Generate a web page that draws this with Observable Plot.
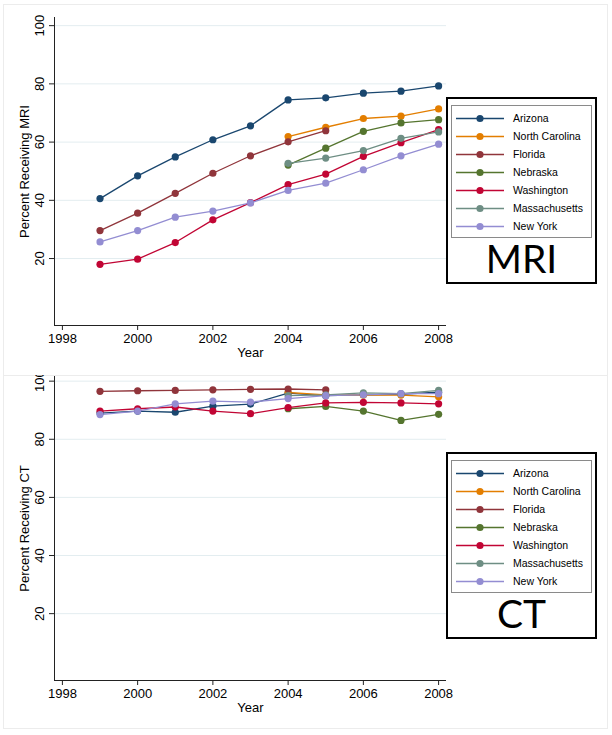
<!DOCTYPE html>
<html>
<head>
<meta charset="utf-8">
<script src="https://cdn.jsdelivr.net/npm/d3@7"></script>
<script src="https://cdn.jsdelivr.net/npm/@observablehq/plot@0.6"></script>
<style>
  html, body { margin: 0; padding: 0; background: #fff; }
  body { width: 612px; height: 735px; position: relative; overflow: hidden; font-family: "Liberation Sans", Arial, sans-serif; }
  .region { position: absolute; border: 1px solid #ececec; box-sizing: border-box; }
  .panel { position: absolute; left: 0; width: 612px; overflow: hidden; }
  .legend-outer { position: absolute; border: 2px solid #000; box-sizing: border-box; background: #fff; }
  .legend-inner { position: absolute; border: 1px solid #8a8a8a; box-sizing: border-box; }
  .legend-row { position: absolute; left: 0; height: 18px; width: 100%; }
  .legend-row svg { position: absolute; left: 4px; top: 0; }
  .legend-row span { position: absolute; left: 61px; top: 2px; font-size: 10.5px; color: #000; white-space: nowrap; }
  .big { position: absolute; left: 0; width: 100%; text-align: center; font-family: Lato, "Open Sans", sans-serif; font-size: 39px; color: #000; line-height: 1; }
</style>
</head>
<body>
<div class="region" style="left:3px;top:4px;width:605px;height:372px;"></div>
<div class="region" style="left:3px;top:375px;width:605px;height:354px;"></div>
<div id="top" class="panel" style="top:0;height:375px;"></div>
<div id="bottom" class="panel" style="top:375px;height:360px;"></div>
<script>
// ---------- data ----------
const years = [1999, 2000, 2001, 2002, 2003, 2004, 2005, 2006, 2007, 2008];
const states = ["Arizona", "North Carolina", "Florida", "Nebraska", "Washington", "Massachusetts", "New York"];
const stateColors = ["#1a476f", "#e37e00", "#90353b", "#55752f", "#c10534", "#6e8e84", "#938dd2"];

// Percent receiving MRI
const mriArizona       = [40.6, 48.4, 54.9, 60.8, 65.6, 74.5, 75.2, 76.8, 77.5, 79.3];
const mriNorthCarolina = [null, null, null, null, null, 61.9, 65.1, 68.1, 68.9, 71.4];
const mriFlorida       = [29.6, 35.6, 42.4, 49.3, 55.3, 60.1, 63.9, null, null, null];
const mriNebraska      = [null, null, null, null, null, 52.1, 57.9, 63.7, 66.6, 67.7];
const mriWashington    = [18.0, 19.8, 25.5, 33.3, 39.2, 45.4, 49.0, 55.1, 59.8, 64.3];
const mriMassachusetts = [null, null, null, null, null, 52.7, 54.5, 57.1, 61.3, 63.5];
const mriNewYork       = [25.7, 29.6, 34.2, 36.3, 39.1, 43.4, 45.9, 50.5, 55.3, 59.3];

// Percent receiving CT
const ctArizona        = [89.0, 89.7, 89.3, 91.4, 92.1, 95.9, 95.0, 95.3, 95.5, 96.2];
const ctNorthCarolina  = [null, null, null, null, null, 96.1, 95.3, 95.2, 95.2, 94.6];
const ctFlorida        = [96.5, 96.7, 96.8, 97.0, 97.2, 97.3, 97.0, null, null, null];
const ctNebraska       = [null, null, null, null, null, 90.5, 91.3, 89.7, 86.5, 88.6];
const ctWashington     = [89.7, 90.5, 91.1, 89.7, 88.8, 90.9, 92.5, 92.7, 92.5, 92.2];
const ctMassachusetts  = [null, null, null, null, null, 95.0, 95.3, 96.0, 95.7, 96.8];
const ctNewYork        = [88.5, 89.7, 92.2, 93.1, 92.8, 94.0, 95.0, 95.3, 95.7, 95.7];

const xTicks = [1998, 2000, 2002, 2004, 2006, 2008];
const yTicks = [20, 40, 60, 80, 100];

const mriSeries = [mriArizona, mriNorthCarolina, mriFlorida, mriNebraska, mriWashington, mriMassachusetts, mriNewYork];
const ctSeries  = [ctArizona, ctNorthCarolina, ctFlorida, ctNebraska, ctWashington, ctMassachusetts, ctNewYork];

function toRows(series) {
  const rows = [];
  series.forEach((vals, i) => {
    vals.forEach((v, j) => rows.push({state: states[i], year: years[j], value: v}));
  });
  return rows;
}

const xDomain = [1997.79, 2008.21];
const FS = 13;

function makePlot({rows, yDomain, yLabel, height, marginTop, marginBottom}) {
  const axisColor = "#222";
  return Plot.plot({
    width: 612,
    height,
    marginLeft: 54,
    marginRight: 166,
    marginTop,
    marginBottom,
    style: {fontFamily: "'Liberation Sans', Arial, sans-serif", fontSize: FS + "px", background: "transparent", color: "#000", overflow: "hidden"},
    x: {domain: xDomain},
    y: {domain: yDomain},
    color: {domain: states, range: stateColors},
    marks: [
      Plot.gridY(yTicks, {stroke: "#e3edf0", strokeOpacity: 1, strokeWidth: 1}),
      Plot.ruleX([xDomain[0]], {stroke: axisColor, strokeWidth: 1}),
      Plot.ruleY([yDomain[0]], {stroke: axisColor, strokeWidth: 1}),
      Plot.axisX({ticks: xTicks, tickSize: 5, tickPadding: 3, tickFormat: d => String(d), label: null, stroke: axisColor, fontSize: FS}),
      Plot.axisY({ticks: yTicks, tickSize: 5, tickFormat: () => "", label: null, stroke: axisColor}),
      Plot.text(yTicks, {y: d => d, text: d => String(d), frameAnchor: "left", dx: -15, rotate: -90, textAnchor: "middle", lineAnchor: "middle", fontSize: FS}),
      Plot.text([yLabel], {text: d => d, frameAnchor: "left", dx: -30, rotate: -90, textAnchor: "middle", lineAnchor: "middle", fontSize: FS}),
      Plot.text(["Year"], {text: d => d, frameAnchor: "bottom", dy: 27, textAnchor: "middle", lineAnchor: "middle", fontSize: FS}),
      Plot.line(rows, {x: "year", y: "value", z: "state", stroke: "state", strokeWidth: 1.3}),
      Plot.dot(rows.filter(d => d.value != null), {x: "year", y: "value", fill: "state", r: 3.6, stroke: "none"})
    ]
  });
}

document.getElementById("top").appendChild(makePlot({
  rows: toRows(mriSeries), yDomain: [-3, 102.8], yLabel: "Percent Receiving MRI",
  height: 375, marginTop: 17, marginBottom: 50
}));
document.getElementById("bottom").appendChild(makePlot({
  rows: toRows(ctSeries), yDomain: [-3, 101.6], yLabel: "Percent Receiving CT",
  height: 360, marginTop: 1, marginBottom: 55
}));

// ---------- legends ----------
function makeLegend(top, bigText) {
  const outer = document.createElement("div");
  outer.className = "legend-outer";
  Object.assign(outer.style, {left: "446px", top: top + "px", width: "151px", height: "187px"});
  const inner = document.createElement("div");
  inner.className = "legend-inner";
  Object.assign(inner.style, {left: "3px", top: "6px", width: "141px", height: "133px"});
  states.forEach((s, i) => {
    const row = document.createElement("div");
    row.className = "legend-row";
    row.style.top = (4 + 18 * i) + "px";
    const svg = d3.create("svg").attr("width", 50).attr("height", 18);
    svg.append("line").attr("x1", 0).attr("x2", 48).attr("y1", 8.5).attr("y2", 8.5)
      .attr("stroke", stateColors[i]).attr("stroke-width", 1.3);
    svg.append("circle").attr("cx", 24).attr("cy", 8.5).attr("r", 3.6).attr("fill", stateColors[i]);
    row.appendChild(svg.node());
    const label = document.createElement("span");
    label.textContent = s;
    row.appendChild(label);
    inner.appendChild(row);
  });
  outer.appendChild(inner);
  const big = document.createElement("div");
  big.className = "big";
  big.style.top = "140px";
  big.textContent = bigText;
  outer.appendChild(big);
  document.body.appendChild(outer);
}
makeLegend(97, "MRI");
makeLegend(452, "CT");
</script>
</body>
</html>
